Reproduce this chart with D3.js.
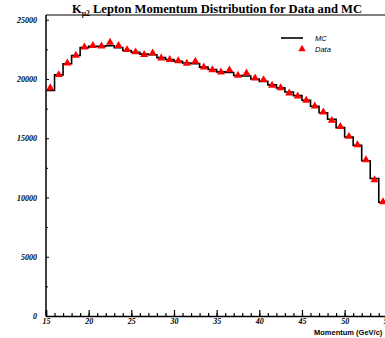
<!DOCTYPE html>
<html>
<head>
<meta charset="utf-8">
<script src="https://cdn.jsdelivr.net/npm/d3@7"></script>
<style>
  html, body { margin: 0; padding: 0; background: #fff; overflow: hidden; }
  svg { display: block; }
</style>
</head>
<body>
<svg id="chart" width="385" height="338"></svg>
<script>
// Momentum bins (GeV/c), 1 GeV wide, lower edges 15..54
const binEdges = d3.range(15, 56, 1);
// Monte Carlo histogram contents per bin
const mcCounts = [19030, 20350, 21280, 21980, 22650, 22750, 22750, 22800, 22650, 22400,
                  22250, 22100, 22050, 21800, 21650, 21500, 21350, 21300, 21000, 20800,
                  20600, 20550, 20300, 20250, 20000, 19800, 19500, 19250, 18900, 18600,
                  18200, 17700, 17150, 16600, 15900, 15100, 14400, 13100, 11600, 9600];
// Measured data per bin (plotted at bin centres)
const dataCounts = [19170, 20270, 21260, 21900, 22610, 22720, 22680, 23000, 22720, 22380,
                    22190, 21960, 22100, 21680, 21540, 21450, 21230, 21400, 20920, 20690,
                    20500, 20670, 20210, 20410, 19990, 19850, 19370, 19170, 18720, 18470,
                    18100, 17620, 17120, 16410, 15900, 15060, 14360, 13090, 11400, 9540];
const xTicks = [15, 20, 25, 30, 35, 40, 45, 50, 55];
const yTicks = [0, 5000, 10000, 15000, 20000, 25000];
const legendItems = ["MC", "Data"];

const svg = d3.select("#chart");
const plotLeft = 46, plotBottom = 316, plotTop = 15, plotRight = 387.3;

const x = d3.scaleLinear().domain([15, 55]).range([plotLeft, plotRight]);
const y = d3.scaleLinear().domain([0, 25400]).range([plotBottom, plotTop]);

const serif = "'Liberation Serif', 'Times New Roman', serif";
const sans = "'Liberation Sans', Arial, sans-serif";

// Title with K_{mu2} subscript
const title = svg.append("text")
  .attr("x", 217).attr("y", 13)
  .attr("text-anchor", "middle")
  .attr("font-family", serif).attr("font-weight", "bold")
  .attr("font-size", 12.6).attr("fill", "#000");
title.append("tspan").text("K");
title.append("tspan").attr("font-size", 7.5).attr("dy", 3).text("\u03bc2");
title.append("tspan").attr("dy", -3).text(" Lepton Momentum Distribution for Data and MC");

// Frame: top border
svg.append("line")
  .attr("x1", plotLeft).attr("x2", 385).attr("y1", plotTop).attr("y2", plotTop)
  .attr("stroke", "#000").attr("stroke-width", 1.2);

// X axis: major ticks every 5, minor every 1, drawn inward
const xAxis = d3.axisBottom(x).tickValues(xTicks).tickSize(-6).tickFormat(d3.format("d"));
const gx = svg.append("g").attr("transform", `translate(0,${plotBottom})`).call(xAxis);
gx.select(".domain").attr("stroke-width", 1.5);
gx.selectAll(".tick line").attr("stroke-width", 1.2);
gx.selectAll(".tick text")
  .attr("font-family", serif).attr("font-style", "italic").attr("font-weight", "bold")
  .attr("font-size", 8).attr("dy", "0.55em").attr("y", 4);
const xMinor = d3.axisBottom(x).tickValues(d3.range(15, 56, 1)).tickSize(-3).tickFormat("");
const gxm = svg.append("g").attr("transform", `translate(0,${plotBottom})`).call(xMinor);
gxm.select(".domain").remove();
gxm.selectAll(".tick line").attr("stroke-width", 1.2);

// Y axis: major ticks every 5000, minor every 2500, drawn inward
const yAxis = d3.axisLeft(y).tickValues(yTicks).tickSize(-3).tickFormat(d3.format("d"));
const gy = svg.append("g").attr("transform", `translate(${plotLeft},0)`).call(yAxis);
gy.select(".domain").attr("stroke-width", 1.5).attr("d", `M0,${plotTop}V${plotBottom}`);
gy.selectAll(".tick line").attr("stroke-width", 1);
gy.selectAll(".tick text")
  .attr("font-family", serif).attr("font-style", "italic").attr("font-weight", "bold")
  .attr("font-size", 8).attr("x", -9);
const yMinor = d3.axisLeft(y).tickValues(d3.range(2500, 25001, 5000)).tickSize(-2).tickFormat("");
const gym = svg.append("g").attr("transform", `translate(${plotLeft},0)`).call(yMinor);
gym.select(".domain").remove();

// MC histogram as a step line
const steps = [];
mcCounts.forEach((v, i) => {
  steps.push([binEdges[i], v]);
  steps.push([binEdges[i + 1], v]);
});
svg.append("path")
  .datum(steps)
  .attr("fill", "none").attr("stroke", "#000").attr("stroke-width", 1.6)
  .attr("d", d3.line().x(d => x(d[0])).y(d => y(d[1])));

// Data points as red triangles
const tri = d3.symbol().type(d3.symbolTriangle).size(28);
svg.append("g").selectAll("path")
  .data(dataCounts)
  .join("path")
  .attr("transform", (d, i) => `translate(${x(binEdges[i] + 0.5)},${y(d) - 1})`)
  .attr("d", tri)
  .attr("fill", "#f00");

// Legend
const lg = svg.append("g");
lg.append("line").attr("x1", 281).attr("x2", 303).attr("y1", 38).attr("y2", 38)
  .attr("stroke", "#000").attr("stroke-width", 1.6);
lg.append("path").attr("transform", "translate(302,49)")
  .attr("d", d3.symbol().type(d3.symbolTriangle).size(24)).attr("fill", "#f00");
lg.selectAll("text").data(legendItems).join("text")
  .attr("x", 315).attr("y", (d, i) => 38 + i * 11).attr("dy", "0.35em")
  .attr("font-family", sans).attr("font-style", "italic")
  .attr("font-size", 7.5).attr("fill", "#000")
  .text(d => d);

// X axis title
svg.append("text")
  .attr("x", 314).attr("y", 335)
  .attr("font-family", sans).attr("font-weight", "bold")
  .attr("font-size", 7.5).attr("fill", "#000")
  .text("Momentum (GeV/c)");
</script>
</body>
</html>
